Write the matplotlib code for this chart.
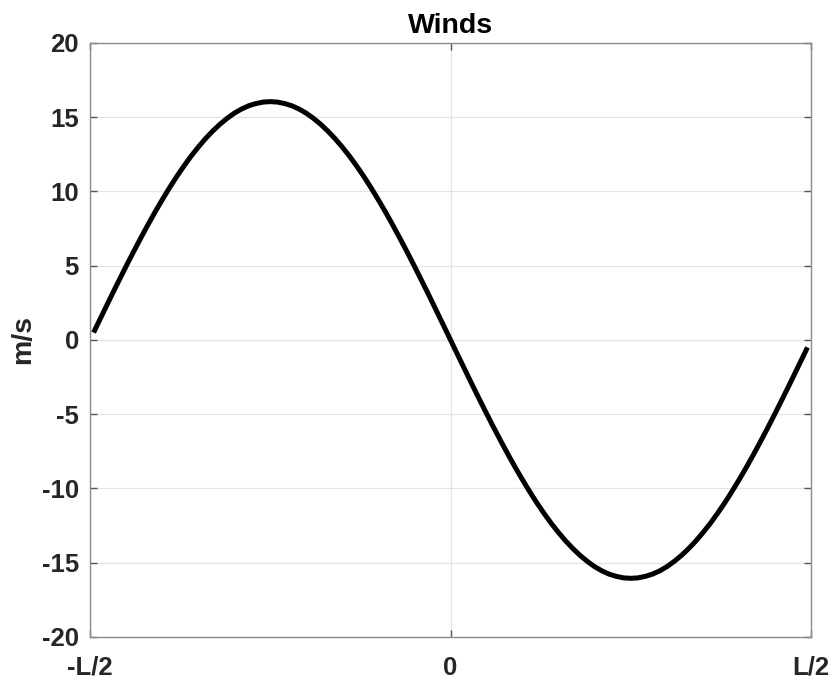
import matplotlib
matplotlib.use("Agg")
import matplotlib.pyplot as plt

# Position along the domain, as a fraction of L (from -L/2 to L/2)
x_frac = [-0.495,
          -0.49, -0.48, -0.47, -0.46, -0.45, -0.44, -0.43, -0.42, -0.41, -0.40,
          -0.39, -0.38, -0.37, -0.36, -0.35, -0.34, -0.33, -0.32, -0.31, -0.30,
          -0.29, -0.28, -0.27, -0.26, -0.25, -0.24, -0.23, -0.22, -0.21, -0.20,
          -0.19, -0.18, -0.17, -0.16, -0.15, -0.14, -0.13, -0.12, -0.11, -0.10,
          -0.09, -0.08, -0.07, -0.06, -0.05, -0.04, -0.03, -0.02, -0.01, 0.00,
          0.01, 0.02, 0.03, 0.04, 0.05, 0.06, 0.07, 0.08, 0.09, 0.10,
          0.11, 0.12, 0.13, 0.14, 0.15, 0.16, 0.17, 0.18, 0.19, 0.20,
          0.21, 0.22, 0.23, 0.24, 0.25, 0.26, 0.27, 0.28, 0.29, 0.30,
          0.31, 0.32, 0.33, 0.34, 0.35, 0.36, 0.37, 0.38, 0.39, 0.40,
          0.41, 0.42, 0.43, 0.44, 0.45, 0.46, 0.47, 0.48, 0.49,
          0.495]

# Wind speed (m/s)
wind = [0.5,
        1.01, 2.01, 3.01, 3.99, 4.96, 5.91, 6.83, 7.73, 8.60, 9.43,
        10.23, 10.99, 11.70, 12.37, 12.98, 13.55, 14.06, 14.52, 14.92, 15.27,
        15.55, 15.77, 15.92, 16.02, 16.05, 16.02, 15.92, 15.77, 15.55, 15.27,
        14.92, 14.52, 14.06, 13.55, 12.98, 12.37, 11.70, 10.99, 10.23, 9.43,
        8.60, 7.73, 6.83, 5.91, 4.96, 3.99, 3.01, 2.01, 1.01, 0.0,
        -1.01, -2.01, -3.01, -3.99, -4.96, -5.91, -6.83, -7.73, -8.60, -9.43,
        -10.23, -10.99, -11.70, -12.37, -12.98, -13.55, -14.06, -14.52, -14.92, -15.27,
        -15.55, -15.77, -15.92, -16.02, -16.05, -16.02, -15.92, -15.77, -15.55, -15.27,
        -14.92, -14.52, -14.06, -13.55, -12.98, -12.37, -11.70, -10.99, -10.23, -9.43,
        -8.60, -7.73, -6.83, -5.91, -4.96, -3.99, -3.01, -2.01, -1.01,
        -0.5]

x_ticks = [-0.5, 0.0, 0.5]
x_ticklabels = ["-L/2", "0", "L/2"]
y_ticks = [-20, -15, -10, -5, 0, 5, 10, 15, 20]

plt.rcParams["font.family"] = ["Liberation Sans", "DejaVu Sans"]
plt.rcParams["font.weight"] = "bold"
plt.rcParams["axes.unicode_minus"] = False

fig = plt.figure(figsize=(8.32, 6.79), dpi=100)
ax = fig.add_axes([0.1082, 0.0619, 0.8666, 0.8748])

ax.plot(x_frac, wind, color="black", linewidth=3.6, solid_joinstyle="round",
        solid_capstyle="butt", zorder=3)

ax.set_xlim(-0.5, 0.5)
ax.set_ylim(-20, 20)
ax.set_xticks(x_ticks)
ax.set_xticklabels(x_ticklabels)
ax.set_yticks(y_ticks)

ax.grid(True, color="#e3e3e3", linewidth=0.9, zorder=0)
ax.set_axisbelow(True)

for s in ax.spines.values():
    s.set_color("#8c8c8c")
    s.set_linewidth(1.0)

ax.tick_params(axis="both", direction="in", length=5, width=1.0, color="#555555",
               labelsize=18.5, labelcolor="#262626", top=True, right=True)
ax.tick_params(axis="x", pad=13.5)
ax.tick_params(axis="y", pad=8)

ax.set_title("Winds", fontsize=20.5, fontweight="bold", color="black", pad=7.5)
ax.set_ylabel("m/s", fontsize=20.5, fontweight="bold", color="#262626", labelpad=4)

fig.savefig("out.png", dpi=100, facecolor="white")
